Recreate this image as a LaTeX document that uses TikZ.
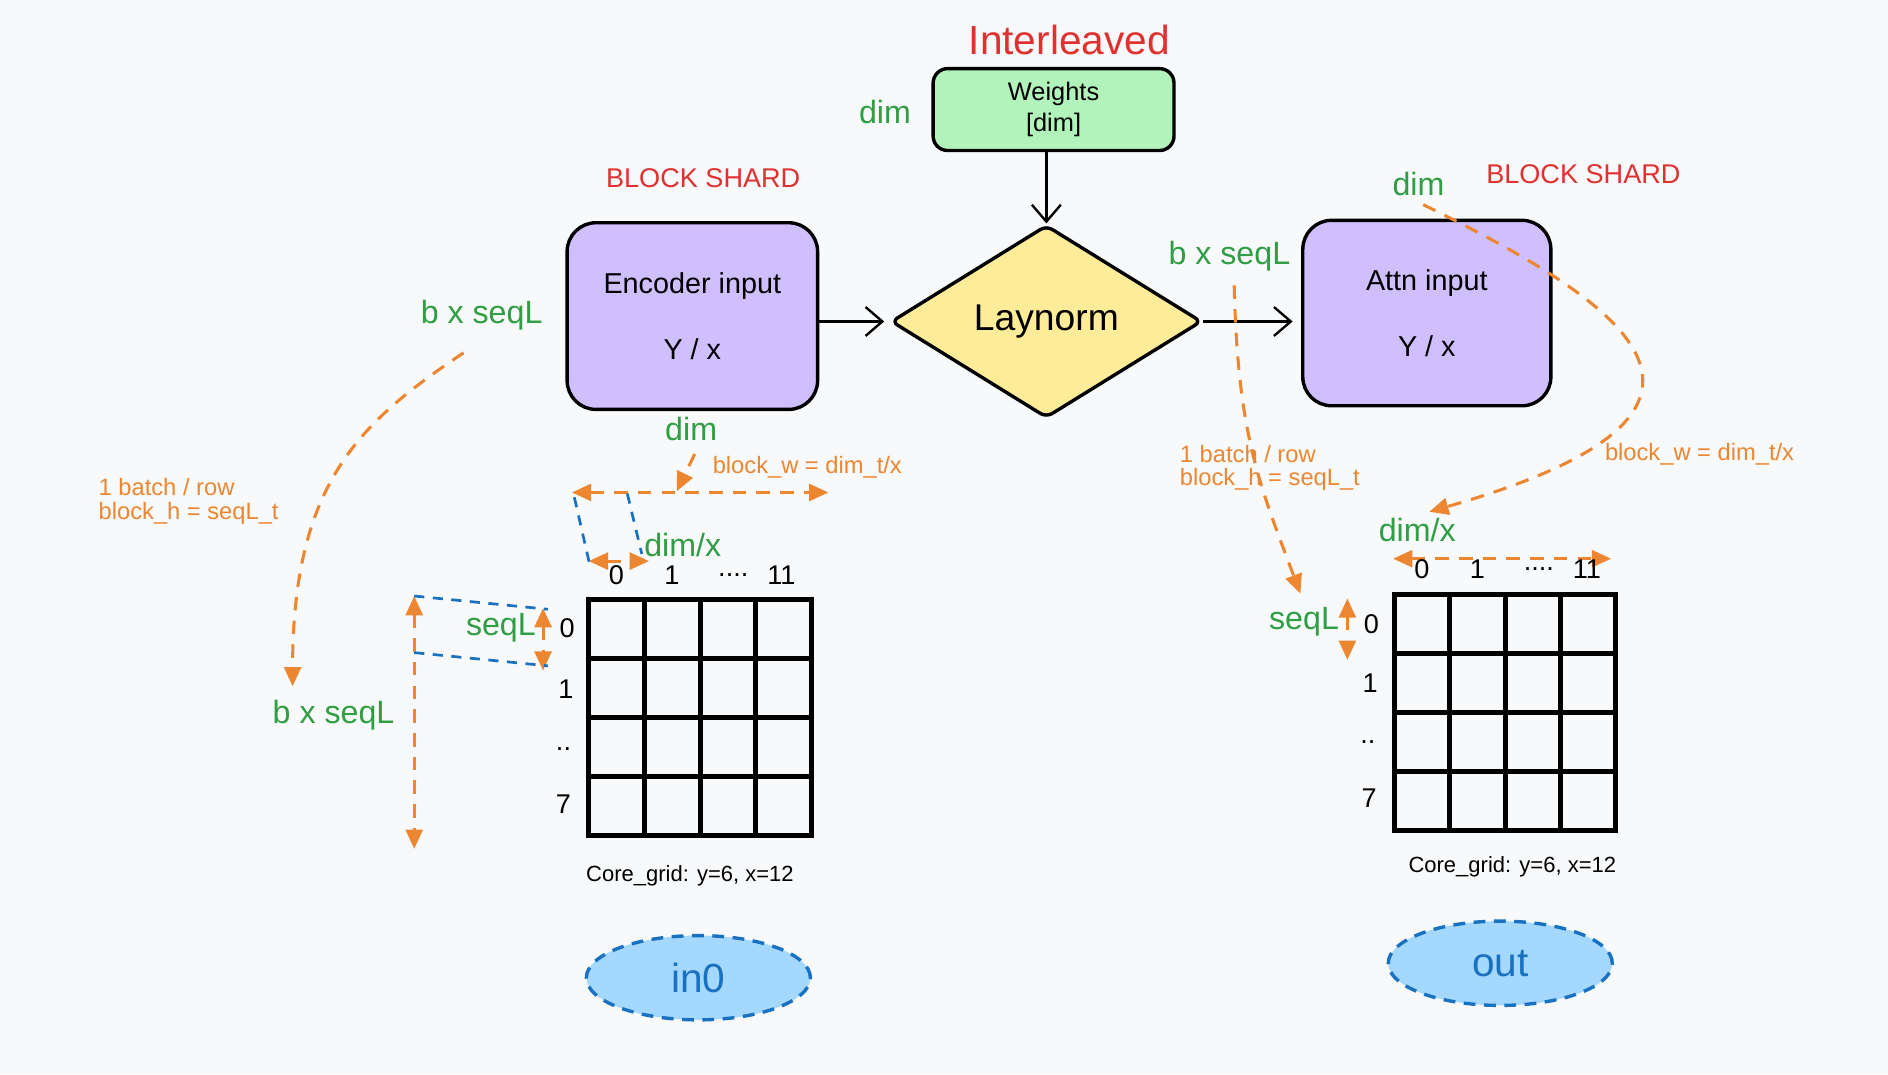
\documentclass[tikz,border=0pt]{standalone}
\usepackage{fontspec}
\setmainfont{Liberation Sans}
\usetikzlibrary{arrows.meta,shapes.geometric,positioning}

\definecolor{bgc}{HTML}{F8F9FA}
\definecolor{redc}{HTML}{E03131}
\definecolor{grnc}{HTML}{2F9E44}
\definecolor{orgc}{HTML}{EC8630}
\definecolor{bluc}{HTML}{1971C2}
\definecolor{purpc}{HTML}{D0BFFF}
\definecolor{mintc}{HTML}{B2F2BB}
\definecolor{yelc}{HTML}{FFEC99}
\definecolor{skyc}{HTML}{A5D8FF}

\tikzset{
  fs/.style={font=\fontsize{#1}{#1}\selectfont},
  hdr/.style={text=redc, fs=16},
  grn/.style={text=grnc, fs=19},
  org/.style={text=orgc, fs=14, align=left, anchor=west},
  num/.style={text=black, fs=16},
  box/.style={draw=black, line width=2pt, rounded corners=0.6cm, align=center, fs=17},
  ord/.style={draw=orgc, line width=1.8pt, dash pattern=on 8pt off 6pt,
    -{Triangle[length=0.4cm,width=0.35cm]}},
  ordd/.style={ord, {Triangle[length=0.4cm,width=0.35cm]}-{Triangle[length=0.4cm,width=0.35cm]}},
  bld/.style={draw=bluc, line width=1.6pt, dash pattern=on 6pt off 5pt},
  blk/.style={draw=black, line width=1.4pt, -{Straight Barb[length=0.35cm,width=0.6cm]}},
  cell/.style={draw=black, line width=3pt},
  bubble/.style={ellipse, draw=bluc, fill=skyc, line width=2pt, dash pattern=on 7pt off 5pt,
    minimum width=4.65cm, minimum height=1.75cm, text=bluc, fs=24}
}

\begin{document}
\begin{tikzpicture}[x=0.025cm,y=-0.025cm]
\fill[bgc] (0,0) rectangle (1568,892);
\useasboundingbox (0,0) rectangle (1568,892);

\node[hdr, fs=24] (intl) at (888,33) {Interleaved};
\node[box, fill=mintc, rounded corners=0.3cm, minimum width=5cm, minimum height=1.7cm, fs=15] (wts) at (875,91) {Weights\\[3pt][dim]};
\node[grn] (dimW) at (735,93) {dim};

\node[hdr] (bsE) at (584,148) {BLOCK SHARD};
\node[hdr] (bsA) at (1315,145) {BLOCK SHARD};

\node[box, fill=purpc, minimum width=5.2cm, minimum height=3.875cm] (enc) at (575,262.5) {Encoder input\\[22pt]Y / x};
\node[box, fill=purpc, minimum width=5.15cm, minimum height=3.85cm] (attn) at (1185,260) {Attn input\\[22pt]Y / x};
\node[diamond, draw=black, fill=yelc, line width=2pt, rounded corners=4pt, aspect=1.6, inner sep=0pt,
  minimum width=6.45cm, minimum height=4cm, fs=22] (ln) at (869,267) {Laynorm};

\draw[blk, shorten >=3pt] (enc.east |- ln.west) -- (ln.west);
\draw[blk] (ln.north |- wts.south) -- (ln.north);
\draw[blk, shorten >=5pt] (ln.east) -- (ln.east -| attn.west);

% left side
\node[grn] (bsqE) at (400,262) {b x seqL};
\node[grn] (bsqG) at (277,594) {b x seqL};
\node[grn] (seqE) at (416,521) {seqL};
\node[grn] (dimE) at (574,356) {dim};
\node[grn] (dimxE) at (567,453) {dim/x};
\node[org] (batE) at (77,416.5) {1 batch / row\\block\_h = seqL\_t};
\node[org] (bwE) at (587,388) {block\_w = dim\_t/x};

\coordinate (eS) at (385,293);
\coordinate (eE) at (243,570);
\draw[ord] (eS) .. controls (300,350) and (243,400) .. (eE);
\coordinate (dS) at (577,377);
\coordinate (dE) at (562,408);
\draw[ord] (dS) -- (dE);
\coordinate (wL) at (475,409);
\coordinate (wR) at (688,409);
\draw[ordd] (wL) -- (wR);
\coordinate (cL) at (489,466);
\coordinate (cR) at (539,466);
\draw[ordd] (cL) -- (cR);
\coordinate (hT) at (344,495);
\coordinate (hB) at (344,705);
\draw[ordd] (hT) -- (hB);
\coordinate (rT) at (451,505);
\coordinate (rB) at (451,557);
\draw[ordd] (rT) -- (rB);

\draw[bld] (477,413) -- (490,470);
\draw[bld] (521,410) -- (533,460);
\draw[bld] (hT) -- (455,506);
\draw[bld] (344,542) -- (455,553);

\draw[cell] (489,498) rectangle (674,694);
\draw[cell] (535.25,498) -- (535.25,694);
\draw[cell] (581.5,498) -- (581.5,694);
\draw[cell] (627.75,498) -- (627.75,694);
\draw[cell] (489,547) -- (674,547);
\draw[cell] (489,596) -- (674,596);
\draw[cell] (489,645) -- (674,645);

\node[num] (cE0) at (512,478) {0};
\node[num] (cE1) at (558,478) {1};
\node[num] (cE2) at (609,478) {....};
\node[num] (cE3) at (649,478) {11};
\node[num] (rE0) at (471,522) {0};
\node[num] (rE1) at (470,572) {1};
\node[num] (rE2) at (468,622) {..};
\node[num] (rE3) at (468,668) {7};
\node[fs=13] (cgE) at (573,727) {Core\_grid: y=6, x=12};
\node[bubble] (in0) at (580,812) {in0};

% right side
\node[grn] (dimA) at (1178,153) {dim};
\node[grn] (bsqA) at (1021,213) {b x seqL};
\node[grn] (dimxA) at (1177,440) {dim/x};
\node[grn] (seqA) at (1083,516) {seqL};
\node[org] (batA) at (975,388.5) {1 batch / row\\block\_h = seqL\_t};
\node[org] (bwA) at (1328,377) {block\_w = dim\_t/x};

\coordinate (aS) at (1025,237);
\coordinate (aE) at (1080,493);
\draw[ord] (aS) .. controls (1028,360) and (1045,400) .. (aE);
\coordinate (bS) at (1182,170);
\coordinate (bE) at (1187,425);
\draw[ord] (bS) .. controls (1345,250) and (1485,340) .. (bE);
\coordinate (xL) at (1157,464);
\coordinate (xR) at (1338,464);
\draw[ordd] (xL) -- (xR);
\coordinate (yT) at (1119,497);
\coordinate (yB) at (1119,548);
\draw[ordd] (yT) -- (yB);

\draw[cell] (1158,494) rectangle (1342,690);
\draw[cell] (1204,494) -- (1204,690);
\draw[cell] (1250,494) -- (1250,690);
\draw[cell] (1296,494) -- (1296,690);
\draw[cell] (1158,543) -- (1342,543);
\draw[cell] (1158,592) -- (1342,592);
\draw[cell] (1158,641) -- (1342,641);

\node[num] (cA0) at (1181,473) {0};
\node[num] (cA1) at (1227,473) {1};
\node[num] (cA2) at (1278,473) {....};
\node[num] (cA3) at (1318,473) {11};
\node[num] (rA0) at (1139,518) {0};
\node[num] (rA1) at (1138,567) {1};
\node[num] (rA2) at (1136,616) {..};
\node[num] (rA3) at (1137,663) {7};
\node[fs=13] (cgA) at (1256,720) {Core\_grid: y=6, x=12};
\node[bubble] (out) at (1246,800) {out};
\end{tikzpicture}
\end{document}
